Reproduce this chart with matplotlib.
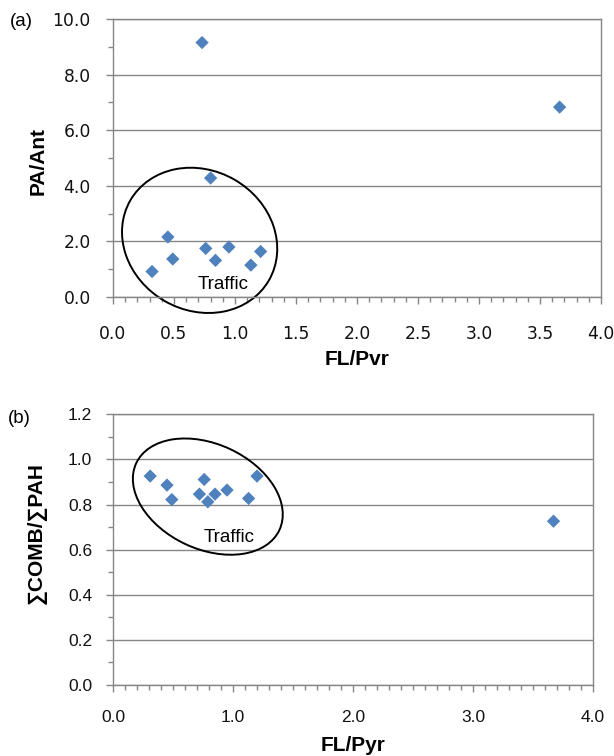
import matplotlib
matplotlib.use("Agg")
import matplotlib.pyplot as plt
import matplotlib.transforms as mtransforms
from matplotlib.patches import Ellipse
from matplotlib.ticker import MultipleLocator, FormatStrFormatter

plt.rcParams['font.family'] = ['Liberation Sans', 'DejaVu Sans']

# ---- data ----
fl_pyr_a = [0.32, 0.45, 0.49, 0.73, 0.76, 0.80, 0.84, 0.95, 1.13, 1.21, 3.66]
pa_ant = [0.92, 2.16, 1.37, 9.15, 1.75, 4.28, 1.32, 1.80, 1.15, 1.64, 6.83]

fl_pyr_b = [0.31, 0.45, 0.49, 0.76, 0.72, 0.79, 0.85, 0.95, 1.13, 1.20, 3.67]
comb_pah = [0.926, 0.886, 0.822, 0.911, 0.846, 0.812, 0.846, 0.864, 0.827, 0.926, 0.726]

xticks_a = [0.0, 0.5, 1.0, 1.5, 2.0, 2.5, 3.0, 3.5, 4.0]
yticks_a = [0.0, 2.0, 4.0, 6.0, 8.0, 10.0]
xticks_b = [0.0, 1.0, 2.0, 3.0, 4.0]
yticks_b = [0.0, 0.2, 0.4, 0.6, 0.8, 1.0, 1.2]

MARKER_COLOR = '#4F81BD'
GRAY = '#868686'

fig = plt.figure(figsize=(6.14, 7.56), dpi=100)
ax1 = fig.add_axes([0.184, 0.607, 0.795, 0.368])
ax2 = fig.add_axes([0.184, 0.094, 0.782, 0.358])


def style(ax, xticks, yticks, xminor, yminor, tick_font, tick_size, xpad, ypad):
    ax.set_xlim(xticks[0], xticks[-1])
    ax.set_ylim(yticks[0], yticks[-1])
    ax.set_xticks(xticks)
    ax.set_yticks(yticks)
    ax.xaxis.set_minor_locator(MultipleLocator(xminor))
    ax.yaxis.set_minor_locator(MultipleLocator(yminor))
    ax.xaxis.set_major_formatter(FormatStrFormatter('%.1f'))
    ax.yaxis.set_major_formatter(FormatStrFormatter('%.1f'))
    for s in ax.spines.values():
        s.set_color(GRAY)
        s.set_linewidth(1.0)
    ax.tick_params(which='major', direction='out', length=5, width=1,
                   color=GRAY, labelsize=tick_size, labelcolor='#111111')
    ax.tick_params(which='minor', direction='out', length=3.5, width=1,
                   color=GRAY)
    ax.tick_params(axis='x', which='major', pad=xpad)
    ax.tick_params(axis='y', which='major', pad=ypad)
    for lab in ax.get_xticklabels() + ax.get_yticklabels():
        lab.set_fontfamily(tick_font)
    ax.grid(axis='y', which='major', color=GRAY, linewidth=1.0)
    ax.set_axisbelow(True)


def draw_ellipse(ax, xc, yc, w_px, h_px, angle):
    offset = mtransforms.ScaledTranslation(xc, yc, ax.transData)
    trans = mtransforms.IdentityTransform() + offset
    e = Ellipse((0, 0), w_px, h_px, angle=angle, transform=trans,
                fill=False, edgecolor='black', linewidth=1.4, clip_on=False)
    ax.add_patch(e)


# ---- panel (a) ----
style(ax1, xticks_a, yticks_a, 0.1, 1.0, 'DejaVu Sans', 12.3, 15, 11)
ax1.scatter(fl_pyr_a, pa_ant, marker='D', s=46, color=MARKER_COLOR,
            edgecolors='none', zorder=3, clip_on=False)
draw_ellipse(ax1, 0.71, 2.04, 160, 140, -30)
ax1.text(0.90, 0.47, 'Traffic', fontsize=13.5, ha='center', va='center')
ax1.set_ylabel('PA/Ant', fontsize=15, fontweight='bold')
ax1.yaxis.set_label_coords(-0.133, 0.49)
ax1.set_xlabel('FL/Pvr', fontsize=15, fontweight='bold')
ax1.xaxis.set_label_coords(0.5, -0.19)
fig.text(10 / 614, 1 - 22 / 756, '(a)', fontsize=13.5, ha='left', va='center')

# ---- panel (b) ----
style(ax2, xticks_b, yticks_b, 0.1, 0.1, 'Liberation Sans', 12.5, 13, 10)
ax2.scatter(fl_pyr_b, comb_pah, marker='D', s=46, color=MARKER_COLOR,
            edgecolors='none', zorder=3, clip_on=False)
draw_ellipse(ax2, 0.79, 0.835, 158, 105, -25)
ax2.text(0.97, 0.655, 'Traffic', fontsize=13.5, ha='center', va='center')
ax2.set_ylabel('\u2211COMB/\u2211PAH', fontsize=15, fontweight='bold')
ax2.yaxis.set_label_coords(-0.1375, 0.56)
ax2.set_xlabel('FL/Pyr', fontsize=15, fontweight='bold')
ax2.xaxis.set_label_coords(0.5, -0.19)
fig.text(8 / 614, 1 - 419 / 756, '(b)', fontsize=13.5, ha='left', va='center')

fig.savefig('out.png', dpi=100)
